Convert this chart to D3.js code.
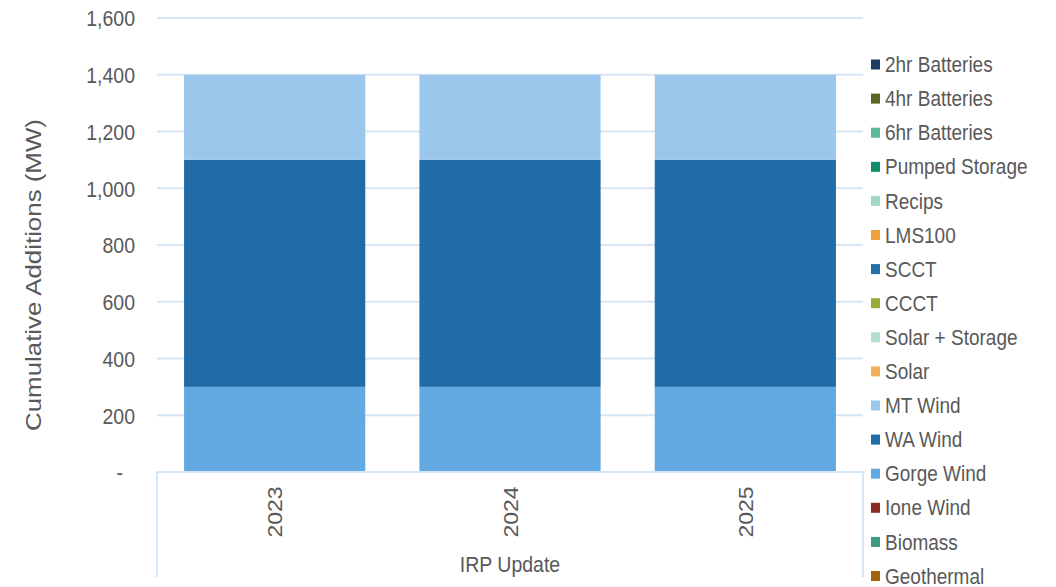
<!DOCTYPE html>
<html>
<head>
<meta charset="utf-8">
<script src="https://cdn.jsdelivr.net/npm/d3@7"></script>
<style>
  html, body { margin: 0; padding: 0; background: #fff; }
  svg { display: block; font-family: "Liberation Sans", Arial, sans-serif; }
</style>
</head>
<body>
<svg id="chart" width="1056" height="587"></svg>
<script>
// ---- data ----
const years = ["2023", "2024", "2025"];
// stacked bottom -> top
const seriesNames = ["Geothermal", "Biomass", "Ione Wind", "Gorge Wind", "WA Wind", "MT Wind", "Solar", "Solar + Storage", "CCCT", "SCCT", "LMS100", "Recips", "Pumped Storage", "6hr Batteries", "4hr Batteries", "2hr Batteries"];
const seriesColors = ["#a0620f", "#3f9a82", "#8b2a20", "#62a9e2", "#206ca6", "#9cc7ec", "#f2b05a", "#b0dfd0", "#99aa3a", "#2470a8", "#f0a03a", "#a3d8c8", "#0f8c6c", "#5bb89a", "#5a6625", "#1a3f63"];
const geothermal = [0, 0, 0];
const biomass = [0, 0, 0];
const ioneWind = [0, 0, 0];
const gorgeWind = [300, 300, 300];
const waWind = [800, 800, 800];
const mtWind = [300, 300, 300];
const solar = [0, 0, 0];
const solarStorage = [0, 0, 0];
const ccct = [0, 0, 0];
const scct = [0, 0, 0];
const lms100 = [0, 0, 0];
const recips = [0, 0, 0];
const pumpedStorage = [0, 0, 0];
const bat6 = [0, 0, 0];
const bat4 = [0, 0, 0];
const bat2 = [0, 0, 0];
const seriesValues = [geothermal, biomass, ioneWind, gorgeWind, waWind, mtWind, solar, solarStorage, ccct, scct, lms100, recips, pumpedStorage, bat6, bat4, bat2];
const yTicks = [0, 200, 400, 600, 800, 1000, 1200, 1400, 1600];

// ---- layout ----
const svg = d3.select("#chart");
const plotLeft = 157, plotRight = 863, plotTop = 18, plotBottom = 472;
const textColor = "#595959";
const gridColor = "#d6e6f4";
const stretch = 1.15; // text in the reference is slightly taller than wide

const x = d3.scaleBand().domain(years).range([plotLeft, plotRight]).paddingInner(0.23).paddingOuter(0.115);
const y = d3.scaleLinear().domain([0, 1600]).range([plotBottom, plotTop]);

const rows = years.map((yr, i) => {
  const r = { year: yr };
  seriesNames.forEach((s, j) => r[s] = seriesValues[j][i]);
  return r;
});
const stack = d3.stack().keys(seriesNames)(rows);

// gridlines
svg.append("g").selectAll("line").data(yTicks.filter(d => d > 0)).join("line")
  .attr("x1", plotLeft).attr("x2", plotRight)
  .attr("y1", d => y(d)).attr("y2", d => y(d))
  .attr("stroke", gridColor).attr("stroke-width", 2);

// bars
svg.append("g").selectAll("g").data(stack).join("g")
  .attr("fill", (d, i) => seriesColors[i])
  .selectAll("rect").data(d => d.filter(p => p[1] - p[0] > 0)).join("rect")
  .attr("x", d => x(d.data.year))
  .attr("width", x.bandwidth())
  .attr("y", d => y(d[1]))
  .attr("height", d => y(d[0]) - y(d[1]));

// bottom axis box
const axisBottomY = 577;
svg.append("path")
  .attr("d", `M${plotLeft},${axisBottomY}V${plotBottom}H${plotRight}V${axisBottomY}`)
  .attr("fill", "none").attr("stroke", gridColor).attr("stroke-width", 2);

// y tick labels
const yAxis = d3.axisLeft(y).tickValues(yTicks).tickSize(0).tickPadding(0)
  .tickFormat(d => d === 0 ? "-" : d3.format(",")(d));
const yg = svg.append("g").attr("transform", `translate(${plotLeft - 22},0)`).call(yAxis);
yg.select(".domain").remove();
yg.selectAll("text")
  .attr("fill", textColor)
  .attr("dy", "0.35em")
  .attr("x", d => d === 0 ? -12 : 0)
  .attr("transform", `scale(1,${stretch})`)
  .style("font-size", "19.5px")
  .style("font-family", "'Liberation Sans', Arial, sans-serif");

// x tick labels (rotated)
const xg = svg.append("g");
years.forEach(yr => {
  const cx = x(yr) + x.bandwidth() / 2;
  xg.append("text")
    .attr("transform", `translate(${cx + 7.5},512) scale(1,${stretch}) rotate(-90)`)
    .attr("text-anchor", "middle")
    .attr("fill", textColor).style("font-size", "20px")
    .text(yr);
});

// x axis title
svg.append("text")
  .attr("transform", `translate(${(plotLeft + plotRight) / 2},572) scale(1,${stretch})`)
  .attr("text-anchor", "middle").attr("fill", textColor).style("font-size", "19.5px")
  .text("IRP Update");

// y axis title
svg.append("text")
  .attr("transform", `translate(41,275) scale(1,${stretch}) rotate(-90)`)
  .attr("text-anchor", "middle").attr("fill", textColor).style("font-size", "22.5px")
  .text("Cumulative Additions (MW)");

// legend (top = last series)
const legendItems = seriesNames.map((s, i) => ({ name: s, color: seriesColors[i] })).reverse();
const lg = svg.append("g").selectAll("g").data(legendItems).join("g")
  .attr("transform", (d, i) => `translate(871,${64.5 + i * 34.1})`);
lg.append("rect").attr("x", 0).attr("y", -5).attr("width", 9).attr("height", 10).attr("fill", d => d.color);
lg.append("text").attr("x", 14).attr("y", 0).attr("dy", "0.35em")
  .attr("transform", `scale(1,${stretch})`)
  .attr("fill", textColor).style("font-size", "19px").text(d => d.name);
</script>
</body>
</html>
